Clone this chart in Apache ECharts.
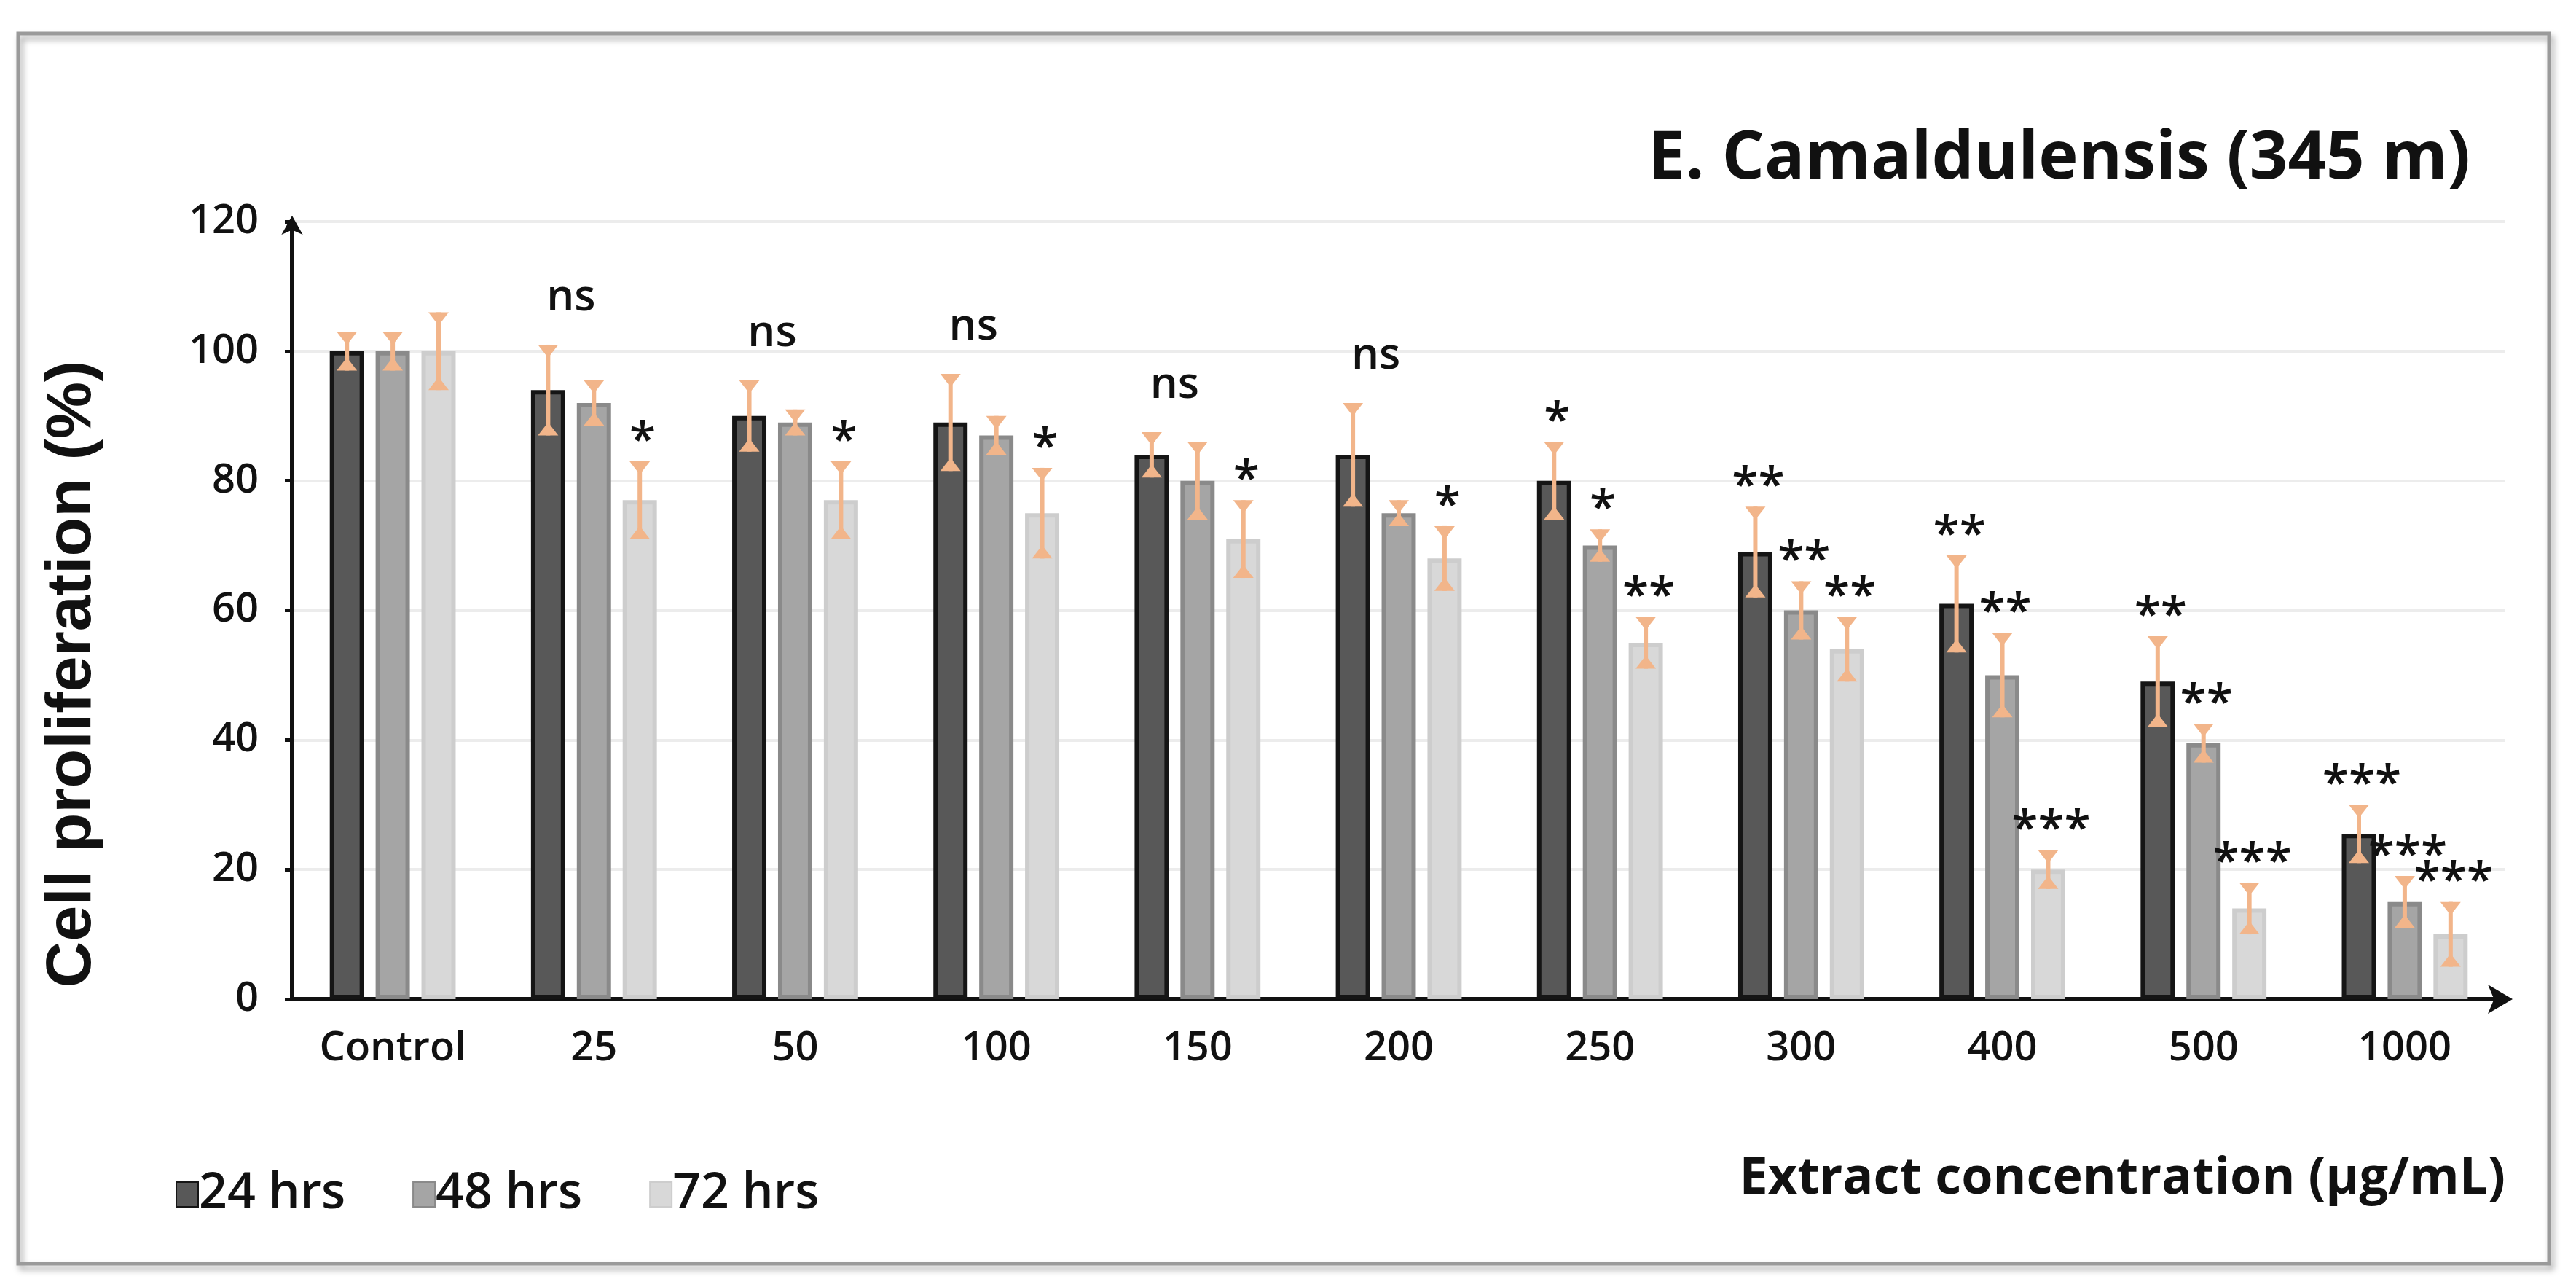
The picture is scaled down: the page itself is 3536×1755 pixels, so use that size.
<!DOCTYPE html>
<html>
<head>
<meta charset="utf-8">
<script src="https://cdn.jsdelivr.net/npm/echarts@6/dist/echarts.min.js"></script>
<style>
html,body{margin:0;padding:0;background:#fff;}
#chart{width:3536px;height:1755px;}
</style>
</head>
<body>
<div id="chart"></div>
<script>
const categories = ['Control','25','50','100','150','200','250','300','400','500','1000'];
const seriesNames = ['24 hrs','48 hrs','72 hrs'];
const yTicks = [0,20,40,60,80,100,120];

const values24 = [100, 94, 90, 89, 84, 84, 80, 69, 61, 49, 25.5];
const values48 = [100, 92, 89, 87, 80, 75, 70, 60, 50, 39.5, 15];
const values72 = [100, 77, 77, 75, 71, 68, 55, 54, 20, 14, 10];

const err24 = [3, 7, 5.5, 7.5, 3.5, 8, 6, 7, 7.5, 7, 4.5];
const err48 = [3, 3.5, 2, 3, 6, 2, 2.5, 4.5, 6.5, 3, 4];
const err72 = [6, 6, 6, 7, 6, 5, 4, 5, 3, 4, 5];

const sig24 = ['', 'ns', 'ns', 'ns', 'ns', 'ns', '*', '**', '**', '**', '***'];
const sig48 = ['', '', '', '', '', '', '*', '**', '**', '**', '***'];
const sig72 = ['', '*', '*', '*', '*', '*', '**', '**', '***', '***', '***'];

const allVals = [values24, values48, values72];
const allErrs = [err24, err48, err72];
const allSigs = [sig24, sig48, sig72];

const BAR_W = 0.17;   // fraction of category band
const BAR_GAP = 0.34; // fraction of bar width
const fills = ['#585858', '#a5a5a5', '#d8d8d8'];
const borders = ['#151515', '#8a8a8a', '#cdcdcd'];
const ERR_COLOR = '#f2b58a';
const FONT = "'Open Sans', 'Noto Sans', sans-serif";

function errSeries(idx) {
  const vals = allVals[idx], errs = allErrs[idx], sigs = allSigs[idx];
  return {
    type: 'custom',
    name: seriesNames[idx] + ' err',
    coordinateSystem: 'cartesian2d',
    z: 5,
    silent: true,
    encode: { x: 0, y: 1 },
    data: vals.map((v, i) => [i, v, errs[i]]),
    renderItem: function (params, api) {
      const i = api.value(0), v = api.value(1), e = api.value(2);
      const band = api.size([1, 0])[0];
      const w = band * BAR_W;
      const step = w * (1 + BAR_GAP);
      const off = (idx - 1) * step;
      const cx = api.coord([i, v])[0] + off;
      const top = api.coord([i, v + e])[1];
      const bot = api.coord([i, v - e])[1];
      const hw = 14, th = 18;
      const children = [
        { type: 'line', shape: { x1: cx, y1: top, x2: cx, y2: bot }, style: { stroke: ERR_COLOR, lineWidth: 6 } },
        { type: 'polygon', shape: { points: [[cx - hw, top], [cx + hw, top], [cx, top + th]] }, style: { fill: ERR_COLOR } },
        { type: 'polygon', shape: { points: [[cx - hw, bot], [cx + hw, bot], [cx, bot - th]] }, style: { fill: ERR_COLOR } }
      ];
      const s = sigs[params.dataIndex];
      if (s === 'ns') {
        const v48 = values48[params.dataIndex] + err48[params.dataIndex];
        const t = Math.min(top, api.coord([i, v48])[1]);
        children.push({
          type: 'text',
          style: { text: 'ns', x: cx + step / 2, y: t - 34, align: 'center', verticalAlign: 'bottom',
                   fill: '#111', font: "600 60px " + FONT }
        });
      } else if (s) {
        children.push({
          type: 'text',
          style: { text: s, x: cx + 4, y: top + 6, align: 'center', verticalAlign: 'bottom',
                   fill: '#111', font: "600 66px " + FONT }
        });
      }
      return { type: 'group', children: children };
    }
  };
}

function barSeries(idx) {
  return {
    type: 'bar',
    name: seriesNames[idx],
    data: allVals[idx],
    barWidth: (BAR_W * 100) + '%',
    barGap: (BAR_GAP * 100) + '%',
    itemStyle: { color: fills[idx], borderColor: borders[idx], borderWidth: 6 },
    z: 2
  };
}

const chart = echarts.init(document.getElementById('chart'), null, { renderer: 'canvas' });
const option = {
  backgroundColor: '#ffffff',
  animation: false,
  title: {
    text: 'E. Camaldulensis (345 m)',
    right: 140,
    top: 168,
    textStyle: { fontFamily: FONT, fontWeight: 'bold', fontSize: 92, color: '#111' }
  },
  legend: {
    data: seriesNames,
    left: 236,
    top: 1600,
    icon: 'rect',
    itemWidth: 30,
    itemHeight: 34,
    itemGap: 92,
    textStyle: { fontFamily: FONT, fontSize: 68, fontWeight: 600, color: '#111', padding: [0, 0, 0, -4] }
  },
  grid: { left: 401, right: 97, top: 304, bottom: 384, containLabel: false },
  xAxis: {
    type: 'category',
    data: categories,
    axisLine: { show: true, lineStyle: { color: '#111', width: 6 }, symbol: ['none', 'arrow'], symbolSize: [30, 34], symbolOffset: [0, 10] },
    axisTick: { show: false },
    axisLabel: { margin: 40, fontFamily: FONT, fontSize: 56, fontWeight: 600, color: '#111' },
    splitLine: { show: false }
  },
  yAxis: {
    type: 'value',
    min: 0,
    max: 120,
    interval: 20,
    axisLine: { show: true, lineStyle: { color: '#111', width: 6 }, symbol: ['none', 'arrow'], symbolSize: [22, 26], symbolOffset: [0, 8] },
    axisTick: { show: true, length: 10, lineStyle: { color: '#111', width: 5 } },
    axisLabel: { margin: 46, fontFamily: FONT, fontSize: 56, fontWeight: 600, color: '#111',
                 formatter: function (v) { return yTicks.indexOf(v) >= 0 ? String(v) : ''; } },
    splitLine: { show: true, lineStyle: { color: '#ececec', width: 4 } }
  },
  graphic: [
    {
      type: 'rect', z: -10, silent: true,
      shape: { x: 25, y: 46, width: 3474, height: 1688 },
      style: { fill: 'rgba(0,0,0,0)', stroke: '#9a9a9a', lineWidth: 5,
               shadowBlur: 8, shadowOffsetX: 4, shadowOffsetY: 6, shadowColor: 'rgba(0,0,0,0.35)' }
    },
    {
      type: 'text', silent: true,
      x: 100, y: 925, rotation: Math.PI / 2,
      style: { text: 'Cell proliferation (%)', align: 'center', verticalAlign: 'middle',
               font: "bold 88px 'Liberation Sans', Arial, sans-serif", fill: '#111' }
    },
    {
      type: 'text', silent: true,
      x: 3439, y: 1618,
      style: { text: 'Extract concentration (\u00b5g/mL)', align: 'right', verticalAlign: 'middle',
               font: "bold 70px " + FONT, fill: '#111' }
    }
  ],
  series: [barSeries(0), barSeries(1), barSeries(2), errSeries(0), errSeries(1), errSeries(2)]
};
chart.setOption(option);
</script>
</body>
</html>
